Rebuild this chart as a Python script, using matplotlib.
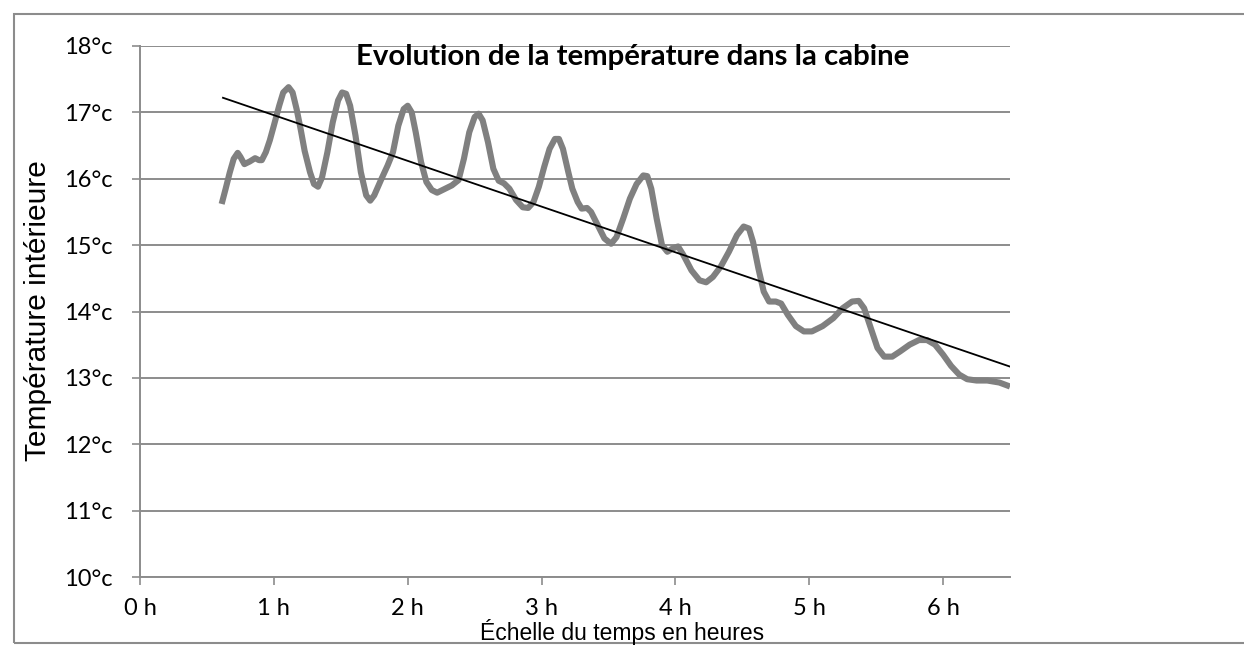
import matplotlib
matplotlib.use('Agg')
import matplotlib.pyplot as plt
from matplotlib.patches import Rectangle

# temperature readings (hours, degrees C)
hours = [0.61, 0.64, 0.67, 0.70, 0.73, 0.75, 0.78, 0.82, 0.86, 0.89, 0.91, 0.94,
         0.97, 1.00, 1.04, 1.07, 1.11, 1.14, 1.17, 1.20, 1.23, 1.27, 1.30, 1.33,
         1.36, 1.40, 1.44, 1.48, 1.51, 1.54, 1.57, 1.61, 1.65, 1.69, 1.72, 1.75,
         1.80, 1.85, 1.89, 1.93, 1.97, 2.00, 2.03, 2.06, 2.10, 2.14, 2.18, 2.22,
         2.27, 2.33, 2.38, 2.42, 2.46, 2.50, 2.53, 2.56, 2.60, 2.64, 2.68, 2.72,
         2.76, 2.81, 2.86, 2.90, 2.94, 2.98, 3.02, 3.06, 3.10, 3.13, 3.16, 3.20,
         3.23, 3.27, 3.30, 3.34, 3.37, 3.42, 3.47, 3.52, 3.56, 3.61, 3.66, 3.71,
         3.76, 3.79, 3.82, 3.86, 3.90, 3.94, 3.98, 4.02, 4.06, 4.12, 4.18, 4.23,
         4.28, 4.34, 4.40, 4.46, 4.51, 4.55, 4.58, 4.62, 4.66, 4.70, 4.75, 4.79,
         4.84, 4.90, 4.96, 5.02, 5.10, 5.18, 5.25, 5.32, 5.37, 5.41, 5.46, 5.51,
         5.56, 5.62, 5.68, 5.75, 5.82, 5.88, 5.94, 6.00, 6.06, 6.12, 6.18, 6.25,
         6.33, 6.42, 6.50]
temps = [15.62, 15.85, 16.09, 16.30, 16.39, 16.33, 16.22, 16.26, 16.31, 16.28, 16.28, 16.40,
         16.58, 16.80, 17.10, 17.30, 17.38, 17.30, 17.05, 16.75, 16.42, 16.10, 15.92, 15.88,
         16.02, 16.40, 16.85, 17.18, 17.30, 17.28, 17.10, 16.65, 16.10, 15.75, 15.67, 15.75,
         15.98, 16.20, 16.40, 16.80, 17.05, 17.10, 17.00, 16.70, 16.25, 15.95, 15.83, 15.79,
         15.84, 15.90, 15.98, 16.30, 16.70, 16.93, 16.98, 16.88, 16.55, 16.15, 15.97, 15.93,
         15.85, 15.68, 15.57, 15.56, 15.65, 15.88, 16.18, 16.45, 16.60, 16.60, 16.45, 16.10,
         15.85, 15.65, 15.55, 15.56, 15.50, 15.30, 15.10, 15.02, 15.12, 15.40, 15.70, 15.92,
         16.05, 16.04, 15.85, 15.40, 15.00, 14.90, 14.95, 14.98, 14.85, 14.62, 14.47, 14.44,
         14.52, 14.68, 14.90, 15.15, 15.28, 15.25, 15.05, 14.65, 14.30, 14.15, 14.15, 14.12,
         13.95, 13.78, 13.70, 13.70, 13.78, 13.90, 14.05, 14.15, 14.16, 14.05, 13.75, 13.45,
         13.32, 13.32, 13.40, 13.50, 13.57, 13.57, 13.50, 13.35, 13.18, 13.05, 12.98, 12.96,
         12.96, 12.93, 12.87]

# linear trend line (start / end)
trend_hours = [0.62, 6.5]
trend_temps = [17.22, 13.17]

yticks = list(range(10, 19))
ylabels = [f"{v}°c" for v in yticks]
xticks = list(range(0, 7))
xlabels = [f"{v} h" for v in xticks]

fig = plt.figure(figsize=(12.44, 6.46), dpi=100)
ax = fig.add_axes([140/1244, 1-577/646, 870/1244, (577-46)/646])

gridc = '#8c8c8c'
ax.plot(hours, temps, color='#808080', lw=4.4, solid_joinstyle='round',
        solid_capstyle='butt', zorder=3)
ax.plot(trend_hours, trend_temps, color='black', lw=1.3, zorder=4)

ax.set_xlim(0, 6.5)
ax.set_ylim(10, 18)
ax.set_yticks(yticks)
ax.set_yticklabels(ylabels, fontfamily='Lato', fontsize=17)
ax.set_xticks(xticks)
ax.set_xticklabels(xlabels, fontfamily='Lato', fontsize=17)
ax.yaxis.grid(True, color=gridc, lw=1.4)
ax.set_axisbelow(True)
for s in ['top', 'right']:
    ax.spines[s].set_visible(False)
ax.spines['left'].set_color(gridc)
ax.spines['bottom'].set_color(gridc)
ax.spines['left'].set_linewidth(1.4)
ax.spines['bottom'].set_linewidth(1.4)
ax.tick_params(axis='both', color=gridc, length=6, width=1.2, direction='out')
ax.tick_params(axis='y', pad=14)
ax.tick_params(axis='x', pad=9)

fig.text(38/1244, 1-311/646, "Température intérieure", fontfamily='Liberation Sans',
         fontsize=21.5, rotation=90, ha='center', va='center')
fig.text(622/1244, 1-640/646, "Échelle du temps en heures", fontfamily='Liberation Sans',
         fontsize=16.5, ha='center', va='baseline')
fig.text(633/1244, 1-57/646, "Evolution de la température dans la cabine",
         fontfamily='Lato', fontweight='bold', fontsize=21.2, ha='center', va='center')

# outer chart border
fig.patches.append(Rectangle((14/1244, 1-643/646), 1.2, (643-14)/646,
                             transform=fig.transFigure, fill=False,
                             edgecolor='#8c8c8c', lw=1.5))

fig.savefig('out.png', dpi=100)
